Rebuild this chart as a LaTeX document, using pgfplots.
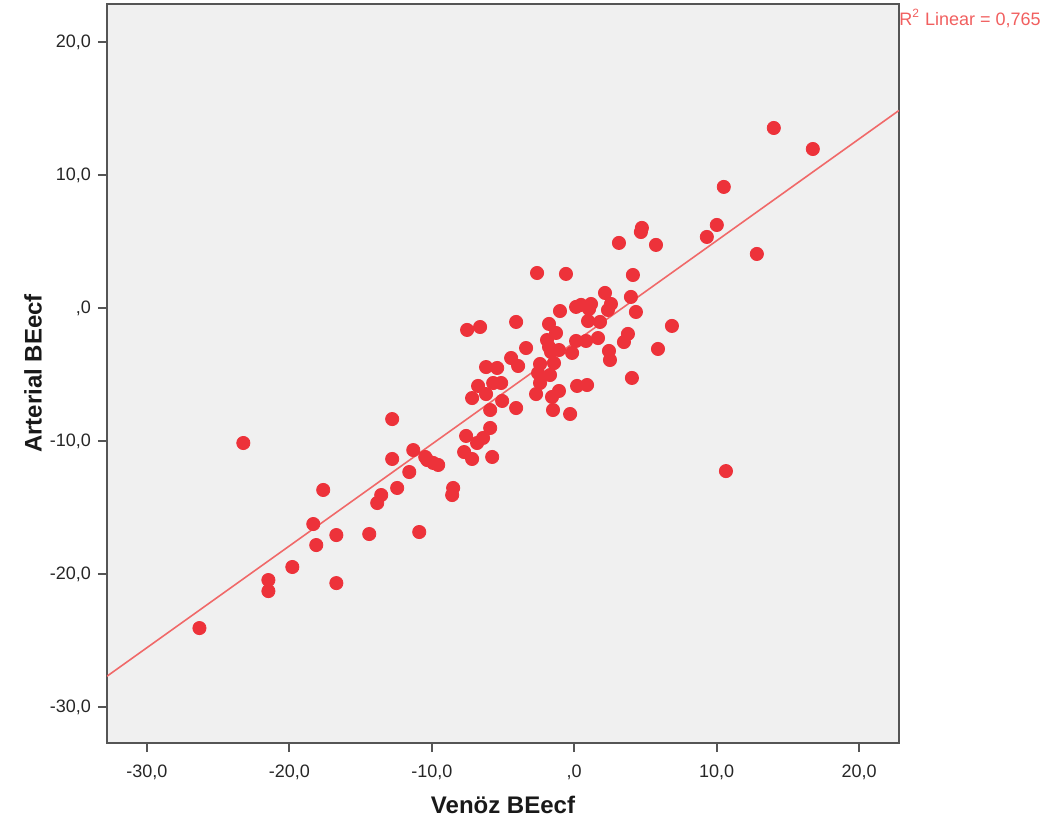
\documentclass[border=0pt]{standalone}
\usepackage{fontspec}
\setmainfont{Liberation Sans}
\usepackage{pgfplots}
\pgfplotsset{compat=1.18}
\definecolor{dotred}{RGB}{237,50,58}
\definecolor{fitred}{RGB}{240,105,105}
\definecolor{bgray}{RGB}{240,240,240}
\definecolor{axgray}{RGB}{85,85,85}
\begin{document}
\begin{tikzpicture}
\begin{axis}[
  scale only axis,
  width=396pt, height=369.5pt,
  xmin=-32.8, xmax=22.8, ymin=-32.7, ymax=22.85,
  axis background/.style={fill=bgray},
  axis line style={axgray, line width=0.9pt},
  xtick={-30,-20,-10,0,10,20},
  xticklabels={{-30,0},{-20,0},{-10,0},{,0},{10,0},{20,0}},
  ytick={-30,-20,-10,0,10,20},
  yticklabels={{-30,0},{-20,0},{-10,0},{,0},{10,0},{20,0}},
  tick align=outside,
  tick pos=left,
  major tick length=4.5pt,
  tick style={axgray, line width=0.9pt},
  tick label style={font=\fontsize{9}{10}\selectfont, text=black!85},
  xticklabel style={yshift=-3pt},
  xlabel={Venöz BEecf},
  ylabel={Arterial BEecf},
  label style={font=\bfseries\fontsize{12}{14}\selectfont, text=black!90},
  xlabel style={at={(axis description cs:0.5,-0.084)}, anchor=center},
  ylabel style={at={(axis description cs:-0.0934,0.5)}, anchor=center},
  clip mode=individual,
]
\addplot[fitred, line width=0.8pt] coordinates {(-32.8,-27.68) (22.8,14.85)};
\addplot[only marks, mark=*, mark size=3.3pt, mark options={draw=dotred, fill=dotred}] table {
x y
-26.31 -24.06
-23.23 -10.15
-21.47 -20.45
-21.47 -21.28
-19.79 -19.47
-18.32 -16.24
-18.11 -17.82
-17.62 -13.68
-16.70 -17.07
-16.70 -20.68
-14.39 -16.99
-13.83 -14.66
-13.55 -14.06
-12.78 -8.35
-12.78 -11.35
-12.43 -13.53
-11.58 -12.33
-11.30 -10.68
-10.88 -16.84
-10.46 -11.20
-10.32 -11.43
-9.90 -11.65
-9.55 -11.80
-8.57 -14.06
-8.50 -13.53
-7.73 -10.83
-7.59 -9.62
-7.17 -11.35
-6.82 -10.15
-6.40 -9.77
-5.90 -9.02
-5.76 -11.20
-7.17 -6.77
-6.75 -5.86
-6.19 -6.47
-5.90 -7.67
-5.69 -5.64
-5.13 -5.64
-5.06 -6.99
-4.08 -7.52
-2.68 -6.47
-2.40 -5.64
-2.54 -4.89
-1.70 -5.04
-1.56 -6.69
-1.07 -6.24
-1.49 -7.67
-0.29 -7.97
0.20 -5.86
0.90 -5.79
-6.19 -4.44
-5.41 -4.51
-4.43 -3.76
-3.94 -4.36
-3.38 -3.01
-2.40 -4.21
-1.42 -4.14
-1.91 -2.41
-1.77 -2.93
-1.63 -3.31
-1.07 -3.16
-0.15 -3.38
0.13 -2.48
0.83 -2.48
1.67 -2.26
2.44 -3.23
2.51 -3.91
5.88 -3.08
4.05 -5.26
-7.52 -1.65
-6.61 -1.43
-4.08 -1.05
-1.77 -1.20
-1.28 -1.88
0.97 -0.98
1.81 -1.05
6.86 -1.35
3.77 -1.95
3.49 -2.56
-2.61 2.63
-0.58 2.56
4.12 2.48
2.16 1.13
3.98 0.83
2.58 0.30
2.37 -0.15
4.33 -0.30
0.13 0.08
0.48 0.23
1.18 0.30
1.04 -0.08
-1.00 -0.23
3.14 4.89
4.75 6.02
4.68 5.71
5.74 4.74
9.31 5.34
10.01 6.24
10.50 9.10
12.82 4.06
14.01 13.53
16.75 11.95
10.65 -12.26
};
\node[anchor=north west, inner sep=0pt, text=fitred!90!red, font=\fontsize{9}{10}\selectfont] at (axis description cs:1,0.993) {R\textsuperscript{2} Linear = 0,765};
\end{axis}
\pgfresetboundingbox
\path (-53.5pt,-43.5pt) rectangle (475.5pt,371.5pt);
\end{tikzpicture}
\end{document}
